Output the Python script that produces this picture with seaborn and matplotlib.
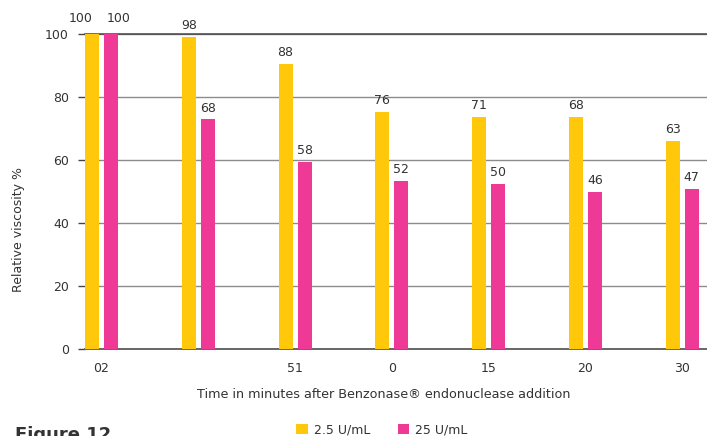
import matplotlib
matplotlib.use("Agg")
import matplotlib.pyplot as plt
import seaborn as sns
import pandas as pd
from matplotlib.patches import Patch

# ---- data ----
time_labels = ["02", "", "51", "0", "15", "20", "30"]
series_names = ["2.5 U/mL", "25 U/mL"]
low_heights = [101.3, 99.1, 90.6, 75.2, 73.7, 73.7, 66.0]
high_heights = [101.3, 72.9, 59.4, 53.3, 52.4, 49.8, 50.8]
low_labels = ["100", "98", "88", "76", "71", "68", "63"]
high_labels = ["100", "68", "58", "52", "50", "46", "47"]
yticks = [0, 20, 40, 60, 80, 100]

colors = {"2.5 U/mL": "#FFC80A", "25 U/mL": "#EE3A96"}
text_color = "#333333"

df = pd.DataFrame({
    "time": time_labels * 2,
    "series": [series_names[0]] * len(time_labels) + [series_names[1]] * len(time_labels),
    "value": low_heights + high_heights,
})

sns.set_theme(style="white")
plt.rcParams["font.family"] = ["DejaVu Sans"]

fig = plt.figure(figsize=(7.07, 4.36), dpi=100)
ax = fig.add_axes([85 / 707, 87 / 436, 1 - 85 / 707, 315 / 436])

sns.barplot(data=df, x="time", y="value", hue="series", order=time_labels,
            hue_order=series_names, palette=colors, width=0.392, gap=0.26,
            saturation=1, errorbar=None, legend=False, ax=ax, zorder=3,
            linewidth=0, edgecolor="none")

ax.set_ylim(0, 100)
ax.set_xlim(-0.17, 6.255)
ax.set_yticks(yticks)
ax.yaxis.grid(True, color="#8c8c8c", linewidth=1.0, zorder=0)
ax.set_axisbelow(True)

for side in ["left", "right"]:
    ax.spines[side].set_visible(False)
ax.spines["top"].set_color("#444444")
ax.spines["top"].set_linewidth(1.1)
ax.spines["bottom"].set_color("#666666")
ax.spines["bottom"].set_linewidth(1.4)

ax.tick_params(axis="y", length=5, width=1.0, color="#444444", pad=6.5,
               labelsize=9, labelcolor=text_color, left=True)
ax.tick_params(axis="x", length=0, pad=9, labelsize=9, labelcolor=text_color)
ax.set_xticks(range(len(time_labels)))
ax.set_xticklabels(time_labels)

for cont, labs, shift in zip(ax.containers, [low_labels, high_labels], [-11, 7.5]):
    anns = ax.bar_label(cont, labels=labs, padding=3.5, fontsize=9, color=text_color)
    for i, a in enumerate(anns):
        a.set_annotation_clip(False)
        if i == 0:
            # the two "100" labels are nudged apart, as in the reference
            x0, y0 = a.xyann
            a.xyann = (x0 + shift * 72 / 100, y0)

ax.set_xlabel("Time in minutes after Benzonase\u00ae endonuclease addition",
              fontsize=9.2, color=text_color)
ax.xaxis.set_label_coords((384 - 85) / 622, -(388 - 349) / 315)
ax.set_ylabel("Relative viscosity %", fontsize=9, color=text_color)
ax.yaxis.set_label_coords((25 - 85) / 622, (349 - 230) / 315)

handles = [Patch(facecolor=colors[s], edgecolor="none") for s in series_names]
fig.legend(handles, series_names, loc="center", bbox_to_anchor=(382 / 707, 6 / 436),
           ncol=2, frameon=False, fontsize=9, handlelength=0.9, handleheight=0.9,
           handletextpad=0.5, columnspacing=2.2, labelcolor=text_color)

fig.text(15 / 707, 1 - 426 / 436, "Figure 12", fontsize=13, fontweight="bold",
         color=text_color, ha="left", va="top")

fig.savefig("out.png", dpi=100)
